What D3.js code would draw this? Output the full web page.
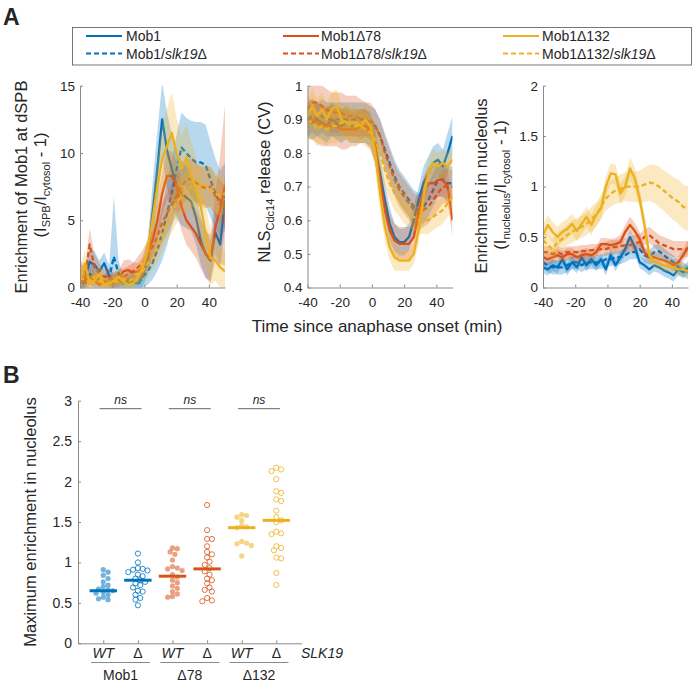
<!DOCTYPE html>
<html><head><meta charset="utf-8">
<script src="https://cdn.jsdelivr.net/npm/d3@7"></script>
<style>body{margin:0;background:#fff} svg{display:block} text{font-family:"Liberation Sans",Arial,Helvetica,sans-serif;fill:#262626}</style>
</head><body><svg id="c" width="695" height="684"></svg>
<script>
// ---------------- DATA ----------------
const times = [-40,-37,-34,-31,-28,-25,-22,-19,-16,-13,-10,-7,-4,-1,2,5,8,11,14,17,20,23,26,29,32,35,38,41,44,47,50];
const seriesNames = ["Mob1","Mob1/slk19Δ","Mob1Δ78","Mob1Δ78/slk19Δ","Mob1Δ132","Mob1Δ132/slk19Δ"];
const xTicksA = [-40,-20,0,20,40];

// Panel A left: enrichment at dSPB
const spbMob1 = [0.4,0.6,1.9,1.7,1.2,1.8,0.9,0.3,0.6,0.3,0.6,0.4,0.3,0.9,2.2,5.5,8.8,12.5,10.2,8.8,7.6,7.0,6.7,6.4,5.2,3.5,2.5,2.0,4.1,3.2,6.5];
const spbMob1Err = [0.8,0.8,1.0,1.0,0.8,0.8,0.8,0.6,0.6,0.6,0.6,0.6,0.6,0.8,1.2,2.2,2.8,2.8,2.8,2.6,2.5,2.4,2.3,2.2,2.0,1.8,1.8,1.5,1.6,1.8,2.0];
const spbSlk = [0.5,0.2,1.0,0.8,0.5,0.4,0.6,2.3,1.0,0.2,0.3,0.5,0.2,0.8,1.2,1.8,2.8,4.0,5.5,7.0,8.8,10.4,10.0,9.6,9.3,9.3,9.1,8.0,7.0,6.2,6.8];
const spbSlkErr = [0.8,0.5,0.8,0.8,0.5,0.5,0.8,4.5,1.0,0.5,0.5,0.5,0.5,0.8,1.0,1.2,1.6,2.0,2.4,2.5,2.6,2.6,2.6,2.8,3.0,3.0,3.0,2.8,2.6,2.5,2.5];
const spbD78 = [1.0,0.4,0.8,0.5,0.2,0.5,0.3,0.5,0.6,1.2,1.3,1.1,1.2,1.5,2.5,3.5,5.0,7.0,8.3,8.3,7.5,6.0,5.0,4.5,4.0,3.2,2.5,2.1,4.5,5.8,7.6];
const spbD78Err = [1.0,0.8,0.8,0.6,0.5,0.5,0.5,0.6,0.6,0.8,0.8,0.8,0.6,0.8,1.0,1.2,1.5,1.6,1.8,1.8,1.8,1.8,1.8,1.8,1.8,1.8,1.8,1.8,2.5,4.0,6.0];
const spbD78Slk = [1.2,0.6,3.2,1.5,1.0,0.8,0.8,0.5,0.8,0.8,1.0,1.2,1.5,1.8,2.5,3.0,3.8,4.8,5.5,6.2,6.8,7.5,8.0,8.1,7.8,7.5,7.4,7.5,6.8,6.5,6.0];
const spbD78SlkErr = [1.0,0.8,1.2,1.0,0.8,0.6,0.6,0.6,0.6,0.6,0.6,0.6,0.8,1.0,1.0,1.2,1.3,1.5,1.5,1.5,1.5,1.5,1.5,1.5,1.5,1.5,1.5,1.5,1.5,1.5,1.5];
const spbD132 = [0.5,1.8,0.3,0.5,1.0,0.2,0.3,0.5,0.8,0.4,0.2,0.3,0.8,1.5,2.8,5.0,7.5,9.5,10.5,11.5,10.0,8.8,9.7,8.3,7.2,6.0,4.0,2.2,2.0,1.5,1.2];
const spbD132Err = [0.8,1.0,0.5,0.5,0.8,0.5,0.5,0.5,0.5,0.5,0.5,0.5,0.6,0.8,1.0,1.5,2.0,2.5,2.8,3.0,2.6,2.5,2.5,2.5,2.5,2.5,2.2,2.0,1.5,1.5,1.5];
const spbD132Slk = [0.8,0.5,0.4,0.8,0.5,0.3,0.3,0.4,0.5,0.6,0.5,0.6,0.8,1.2,1.8,2.3,3.0,3.8,4.8,5.5,6.3,6.8,7.2,7.5,7.5,7.6,7.6,7.4,7.0,6.8,7.0];
const spbD132SlkErr = [0.6,0.5,0.5,0.5,0.5,0.4,0.4,0.4,0.4,0.5,0.5,0.5,0.6,0.8,1.0,1.0,1.2,1.2,1.3,1.4,1.5,1.5,1.5,1.5,1.5,1.5,1.5,1.5,1.5,1.5,1.5];
const spbTicks = [0,5,10,15];

// Panel A middle: NLS-Cdc14 release (CV)
const nlsMob1 = [0.90,0.89,0.90,0.89,0.88,0.90,0.89,0.88,0.89,0.88,0.88,0.88,0.88,0.87,0.82,0.74,0.66,0.59,0.55,0.535,0.535,0.55,0.60,0.66,0.71,0.74,0.77,0.78,0.76,0.80,0.85];
const nlsMob1Err = [0.05,0.05,0.05,0.05,0.05,0.05,0.05,0.05,0.05,0.05,0.05,0.05,0.05,0.05,0.05,0.05,0.05,0.05,0.04,0.04,0.04,0.04,0.04,0.04,0.05,0.05,0.05,0.05,0.05,0.06,0.06];
const nlsSlk = [0.90,0.91,0.90,0.91,0.90,0.90,0.90,0.90,0.90,0.90,0.90,0.90,0.90,0.89,0.88,0.85,0.81,0.77,0.73,0.70,0.68,0.66,0.64,0.63,0.64,0.66,0.69,0.72,0.72,0.71,0.71];
const nlsSlkErr = [0.05,0.05,0.05,0.05,0.05,0.05,0.05,0.05,0.05,0.05,0.05,0.05,0.05,0.05,0.05,0.05,0.05,0.05,0.05,0.05,0.05,0.05,0.05,0.05,0.05,0.05,0.05,0.05,0.05,0.05,0.05];
const nlsD78 = [0.90,0.90,0.89,0.88,0.88,0.88,0.88,0.87,0.87,0.87,0.87,0.88,0.88,0.86,0.82,0.72,0.63,0.57,0.54,0.53,0.53,0.53,0.55,0.62,0.68,0.71,0.71,0.72,0.72,0.70,0.60];
const nlsD78Err = [0.06,0.06,0.06,0.06,0.06,0.06,0.06,0.06,0.06,0.05,0.05,0.05,0.05,0.05,0.05,0.05,0.05,0.05,0.05,0.05,0.05,0.05,0.05,0.05,0.05,0.05,0.05,0.05,0.05,0.05,0.05];
const nlsD78Slk = [0.93,0.95,0.95,0.94,0.93,0.92,0.92,0.92,0.91,0.91,0.91,0.90,0.90,0.90,0.88,0.85,0.80,0.76,0.72,0.69,0.67,0.65,0.63,0.62,0.63,0.64,0.66,0.68,0.70,0.70,0.70];
const nlsD78SlkErr = [0.06,0.06,0.06,0.06,0.06,0.06,0.06,0.06,0.06,0.06,0.06,0.06,0.05,0.05,0.05,0.05,0.05,0.05,0.05,0.05,0.05,0.05,0.05,0.05,0.05,0.05,0.05,0.05,0.05,0.05,0.05];
const nlsD132 = [0.91,0.94,0.91,0.93,0.90,0.93,0.94,0.90,0.89,0.89,0.89,0.88,0.90,0.88,0.80,0.68,0.58,0.52,0.49,0.48,0.48,0.48,0.50,0.57,0.67,0.74,0.77,0.76,0.77,0.76,0.78];
const nlsD132Err = [0.05,0.05,0.05,0.05,0.05,0.05,0.05,0.05,0.05,0.05,0.05,0.05,0.05,0.05,0.05,0.05,0.04,0.04,0.04,0.03,0.03,0.03,0.03,0.04,0.04,0.04,0.04,0.04,0.04,0.04,0.04];
const nlsD132Slk = [0.90,0.89,0.87,0.88,0.87,0.88,0.88,0.89,0.89,0.88,0.88,0.88,0.87,0.86,0.84,0.80,0.75,0.71,0.68,0.66,0.64,0.62,0.61,0.60,0.60,0.60,0.61,0.62,0.63,0.65,0.67];
const nlsD132SlkErr = [0.05,0.05,0.05,0.05,0.05,0.05,0.05,0.05,0.05,0.05,0.05,0.05,0.05,0.05,0.05,0.05,0.05,0.05,0.05,0.05,0.05,0.04,0.04,0.04,0.04,0.04,0.04,0.04,0.04,0.04,0.04];
const nlsTicks = [0.4,0.5,0.6,0.7,0.8,0.9,1];

// Panel A right: enrichment in nucleolus
const nucMob1 = [0.20,0.18,0.22,0.20,0.28,0.18,0.25,0.20,0.30,0.22,0.28,0.22,0.28,0.18,0.32,0.22,0.30,0.38,0.50,0.40,0.25,0.22,0.18,0.22,0.20,0.17,0.15,0.12,0.18,0.15,0.20];
const nucMob1Err = [0.06,0.06,0.06,0.06,0.06,0.06,0.06,0.06,0.06,0.06,0.06,0.06,0.06,0.06,0.06,0.06,0.06,0.06,0.07,0.07,0.06,0.06,0.06,0.06,0.06,0.06,0.06,0.06,0.06,0.06,0.06];
const nucSlk = [0.25,0.22,0.20,0.20,0.20,0.22,0.25,0.25,0.22,0.25,0.25,0.25,0.25,0.28,0.28,0.30,0.30,0.32,0.35,0.35,0.38,0.32,0.30,0.35,0.36,0.32,0.28,0.25,0.20,0.18,0.15];
const nucSlkErr = [0.07,0.07,0.07,0.07,0.07,0.07,0.07,0.07,0.07,0.07,0.07,0.07,0.07,0.07,0.07,0.07,0.07,0.07,0.07,0.07,0.07,0.07,0.07,0.07,0.07,0.07,0.07,0.07,0.07,0.07,0.07];
const nucD78 = [0.30,0.28,0.30,0.32,0.30,0.33,0.33,0.30,0.32,0.33,0.32,0.35,0.43,0.43,0.42,0.43,0.45,0.55,0.62,0.56,0.48,0.35,0.30,0.30,0.28,0.27,0.25,0.22,0.25,0.32,0.40];
const nucD78Err = [0.06,0.06,0.06,0.06,0.06,0.06,0.06,0.06,0.06,0.06,0.06,0.06,0.06,0.06,0.06,0.06,0.07,0.07,0.08,0.08,0.07,0.06,0.06,0.06,0.06,0.06,0.06,0.06,0.06,0.06,0.07];
const nucD78Slk = [0.35,0.35,0.33,0.35,0.33,0.35,0.35,0.35,0.36,0.36,0.37,0.37,0.38,0.38,0.40,0.40,0.41,0.42,0.42,0.44,0.45,0.50,0.52,0.48,0.44,0.42,0.40,0.38,0.38,0.38,0.38];
const nucD78SlkErr = [0.06,0.06,0.06,0.06,0.06,0.06,0.06,0.06,0.06,0.06,0.06,0.06,0.06,0.07,0.07,0.07,0.07,0.07,0.08,0.08,0.08,0.08,0.08,0.08,0.08,0.08,0.08,0.08,0.08,0.08,0.08];
const nucD132 = [0.52,0.62,0.55,0.50,0.55,0.58,0.63,0.56,0.63,0.70,0.62,0.72,0.78,1.00,1.13,1.12,0.93,1.00,1.18,1.08,0.88,0.62,0.32,0.26,0.24,0.22,0.21,0.20,0.18,0.18,0.16];
const nucD132Err = [0.10,0.10,0.10,0.10,0.10,0.10,0.10,0.10,0.10,0.10,0.10,0.10,0.10,0.10,0.10,0.10,0.10,0.10,0.11,0.11,0.10,0.10,0.08,0.06,0.06,0.06,0.06,0.06,0.06,0.06,0.06];
const nucD132Slk = [0.47,0.42,0.38,0.45,0.48,0.52,0.55,0.58,0.60,0.63,0.68,0.72,0.80,0.88,0.93,0.96,0.98,1.00,1.00,1.00,1.00,1.02,1.04,1.03,1.00,0.96,0.92,0.88,0.85,0.80,0.78];
const nucD132SlkErr = [0.10,0.10,0.10,0.10,0.10,0.10,0.11,0.11,0.11,0.11,0.12,0.12,0.12,0.12,0.13,0.13,0.14,0.14,0.15,0.15,0.16,0.17,0.18,0.19,0.20,0.20,0.21,0.21,0.22,0.22,0.22];
const nucTicks = [0,0.5,1,1.5,2];

// Panel B: maximum enrichment in nucleolus
const groupLabels = ["Mob1","Δ78","Δ132"];
const conditionLabels = ["WT","Δ","WT","Δ","WT","Δ"];
const bMob1WT = [0.91,0.88,0.84,0.80,0.76,0.72,0.70,0.67,0.66,0.65,0.63,0.62,0.60,0.57,0.55,0.54];
const bMob1Slk = [1.11,1.00,0.93,0.92,0.91,0.90,0.88,0.85,0.83,0.80,0.78,0.76,0.74,0.72,0.69,0.65,0.64,0.60,0.56,0.54,0.47];
const bD78WT = [1.18,1.17,1.13,1.10,1.03,0.95,0.93,0.92,0.90,0.85,0.82,0.78,0.75,0.71,0.68,0.64,0.61,0.58,0.57];
const bD78Slk = [1.71,1.40,1.29,1.29,1.20,1.13,1.10,1.06,1.01,0.97,0.93,0.89,0.85,0.80,0.78,0.74,0.69,0.66,0.64,0.56,0.53,0.52];
const bD132WT = [1.59,1.58,1.56,1.52,1.46,1.44,1.43,1.26,1.24,1.23,1.21,1.08];
const bD132Slk = [2.17,2.15,2.13,2.03,1.88,1.86,1.78,1.76,1.64,1.56,1.52,1.50,1.38,1.36,1.35,1.20,1.18,1.15,1.06,1.05,0.87,0.72];
const bMedians = [0.65,0.78,0.83,0.92,1.43,1.52];
const bTicks = [0,0.5,1,1.5,2,2.5,3];
const sigLabels = ["ns","ns","ns"];

// ---------------- DRAWING ----------------
const BLUE="#0072BD", ORANGE="#D95319", YELLOW="#EDB120";
const colors=[BLUE,BLUE,ORANGE,ORANGE,YELLOW,YELLOW];
const dashed=[false,true,false,true,false,true];
const AXC="#8a8a8a";
const svg=d3.select("#c");
const fmt=d=>String(d);

svg.append("text").attr("x",3).attr("y",25).attr("font-size",23).attr("font-weight","bold").text("A");
svg.append("text").attr("x",3).attr("y",383).attr("font-size",23).attr("font-weight","bold").text("B");

// Legend
svg.append("rect").attr("x",72.5).attr("y",27.5).attr("width",619).attr("height",37.5).attr("fill","none").attr("stroke","#555").attr("stroke-width",0.8);
const legCols=[{lx:86,tx:126},{lx:283,tx:321},{lx:503,tx:542}];
const legRows=[36,53.5];
const legOrder=[[0,2,4],[1,3,5]];
legOrder.forEach((row,ri)=>row.forEach((si,ci)=>{
  const c=legCols[ci], y=legRows[ri];
  svg.append("line").attr("x1",c.lx).attr("x2",c.lx+36).attr("y1",y).attr("y2",y)
    .attr("stroke",colors[si]).attr("stroke-width",2.2).attr("stroke-dasharray",dashed[si]?"5,3":null);
  const t=svg.append("text").attr("x",c.tx).attr("y",y+5).attr("font-size",14);
  const name=seriesNames[si];
  const k=name.indexOf("/slk19");
  if(k<0){t.text(name);} else {
    t.append("tspan").text(name.slice(0,k+1));
    t.append("tspan").attr("font-style","italic").text("slk19");
    t.append("tspan").text("Δ");
  }
}));

function timePanel(cfg){
  const x=d3.scaleLinear().domain([-40,50]).range([cfg.x0,cfg.x0+145]);
  const y=d3.scaleLinear().domain(cfg.ydom).range([287.5,85.7]);
  const id="clip"+Math.round(cfg.x0);
  svg.append("clipPath").attr("id",id).append("rect").attr("x",cfg.x0).attr("y",85.7).attr("width",145).attr("height",201.8);
  const g=svg.append("g").attr("clip-path",`url(#${id})`);
  cfg.series.forEach((s,i)=>{
    const pts=times.map((t,j)=>({t,v:s.v[j],e:s.e[j]}));
    g.append("path").datum(pts).attr("fill",colors[i]).attr("fill-opacity",0.28).attr("stroke","none")
      .attr("d",d3.area().x(d=>x(d.t)).y0(d=>y(d.v-d.e)).y1(d=>y(d.v+d.e)));
    g.append("path").datum(pts).attr("fill","none").attr("stroke",colors[i]).attr("stroke-width",2.3)
      .attr("stroke-linejoin","round").attr("stroke-dasharray",dashed[i]?"5,3":null)
      .attr("d",d3.line().x(d=>x(d.t)).y(d=>y(d.v)));
  });
  const ax=svg.append("g").attr("transform",`translate(${cfg.x0},0)`)
    .call(d3.axisLeft(y).tickValues(cfg.ticks).tickSize(-3).tickSizeOuter(0).tickPadding(5).tickFormat(fmt));
  const bx=svg.append("g").attr("transform",`translate(0,287.5)`)
    .call(d3.axisBottom(x).tickValues(xTicksA).tickSize(-3).tickSizeOuter(0).tickPadding(10).tickFormat(fmt));
  [ax,bx].forEach(a=>{a.select(".domain").attr("stroke",AXC);a.selectAll(".tick line").attr("stroke",AXC);
    a.selectAll(".tick text").attr("font-size",13.5).attr("fill","#262626").attr("font-family","Liberation Sans, Arial, sans-serif");});
}

timePanel({x0:80,ydom:[0,15],ticks:spbTicks,series:[
  {v:spbMob1,e:spbMob1Err},{v:spbSlk,e:spbSlkErr},{v:spbD78,e:spbD78Err},{v:spbD78Slk,e:spbD78SlkErr},{v:spbD132,e:spbD132Err},{v:spbD132Slk,e:spbD132SlkErr}]});
timePanel({x0:307.5,ydom:[0.4,1],ticks:nlsTicks,series:[
  {v:nlsMob1,e:nlsMob1Err},{v:nlsSlk,e:nlsSlkErr},{v:nlsD78,e:nlsD78Err},{v:nlsD78Slk,e:nlsD78SlkErr},{v:nlsD132,e:nlsD132Err},{v:nlsD132Slk,e:nlsD132SlkErr}]});
timePanel({x0:543,ydom:[0,2],ticks:nucTicks,series:[
  {v:nucMob1,e:nucMob1Err},{v:nucSlk,e:nucSlkErr},{v:nucD78,e:nucD78Err},{v:nucD78Slk,e:nucD78SlkErr},{v:nucD132,e:nucD132Err},{v:nucD132Slk,e:nucD132SlkErr}]});

// Axis titles panel A
svg.append("text").attr("x",377).attr("y",332).attr("text-anchor","middle").attr("font-size",17).text("Time since anaphase onset (min)");
function rotText(x,y,parts,size){
  const t=svg.append("text").attr("transform",`translate(${x},${y}) rotate(-90)`).attr("text-anchor","middle").attr("font-size",size);
  let cur=0;
  parts.forEach(p=>{
    const sh=p.sub?3.5:0;
    t.append("tspan").attr("dy",sh-cur).attr("font-size",p.sub?11:size).text(p.s);
    cur=sh;
  });
}
rotText(27,187,[{s:"Enrichment of Mob1 at dSPB"}],16.5);
rotText(46,185,[{s:"(I"},{s:"SPB",sub:true},{s:"/I"},{s:"cytosol",sub:true},{s:" - 1)"}],16.5);
rotText(270,182,[{s:"NLS"},{s:"Cdc14",sub:true},{s:" release (CV)"}],16.5);
rotText(487,186,[{s:"Enrichment in nucleolus"}],16.5);
rotText(506,185,[{s:"(I"},{s:"nucleolus",sub:true},{s:"/I"},{s:"cytosol",sub:true},{s:" - 1)"}],16.5);

// ---------------- Panel B ----------------
const xB=d3.scaleLinear().domain([0.27,6.73]).range([78,301.6]);
const yB=d3.scaleLinear().domain([0,3]).range([643.3,400.7]);
const bSets=[bMob1WT,bMob1Slk,bD78WT,bD78Slk,bD132WT,bD132Slk];
const r=2.6;
function swarm(vals,cx){
  const placed=[];
  return vals.map(v=>{
    const yy=yB(v); let px=cx;
    for(let k=0;k<30;k++){
      const cand=cx+(k===0?0:(k%2?1:-1)*Math.ceil(k/2)*2.4);
      if(placed.every(p=>Math.hypot(p.x-cand,p.y-yy)>=2*r*0.9)){px=cand;break;}
    }
    placed.push({x:px,y:yy});
    return {x:px,y:yy};
  });
}
bSets.forEach((vals,i)=>{
  const cx=xB(i+1);
  const pts=swarm(vals,cx);
  const filled=i%2===0;
  svg.append("g").selectAll("circle").data(pts).join("circle")
    .attr("cx",d=>d.x).attr("cy",d=>d.y).attr("r",r)
    .attr("fill",filled?colors[i]:"none").attr("fill-opacity",filled?0.55:null)
    .attr("stroke",filled?"none":colors[i]).attr("stroke-opacity",0.8).attr("stroke-width",1);
  svg.append("line").attr("x1",cx-13.7).attr("x2",cx+13.7).attr("y1",yB(bMedians[i])).attr("y2",yB(bMedians[i]))
    .attr("stroke",colors[i]).attr("stroke-width",3);
});
const ayB=svg.append("g").attr("transform","translate(78,0)")
  .call(d3.axisLeft(yB).tickValues(bTicks).tickSize(-3).tickSizeOuter(0).tickPadding(6).tickFormat(fmt));
const axB=svg.append("g").attr("transform","translate(0,643.3)")
  .call(d3.axisBottom(xB).tickValues([1,2,3,4,5,6]).tickSize(-3).tickSizeOuter(0).tickFormat(""));
[ayB,axB].forEach(a=>{a.select(".domain").attr("stroke",AXC);a.selectAll(".tick line").attr("stroke",AXC);
  a.selectAll(".tick text").attr("font-size",14).attr("fill","#262626").attr("font-family","Liberation Sans, Arial, sans-serif");});
conditionLabels.forEach((l,i)=>{
  svg.append("text").attr("x",xB(i+1)).attr("y",658).attr("text-anchor","middle").attr("font-size",14)
    .attr("font-style",l==="WT"?"italic":"normal").text(l);
});
svg.append("text").attr("x",322).attr("y",658).attr("text-anchor","middle").attr("font-size",14).attr("font-style","italic").text("SLK19");
groupLabels.forEach((l,k)=>{
  const c=(xB(2*k+1)+xB(2*k+2))/2;
  svg.append("line").attr("x1",c-29.5).attr("x2",c+29.5).attr("y1",662.5).attr("y2",662.5).attr("stroke",AXC).attr("stroke-width",1);
  svg.append("text").attr("x",c).attr("y",680).attr("text-anchor","middle").attr("font-size",14).text(l);
  svg.append("line").attr("x1",c-21).attr("x2",c+21).attr("y1",408.7).attr("y2",408.7).attr("stroke","#666").attr("stroke-width",1);
  svg.append("text").attr("x",c).attr("y",404).attr("text-anchor","middle").attr("font-size",12).attr("font-style","italic").text(sigLabels[k]);
});
rotText(36,522,[{s:"Maximum enrichment in nucleolus"}],16.5);
</script></body></html>
